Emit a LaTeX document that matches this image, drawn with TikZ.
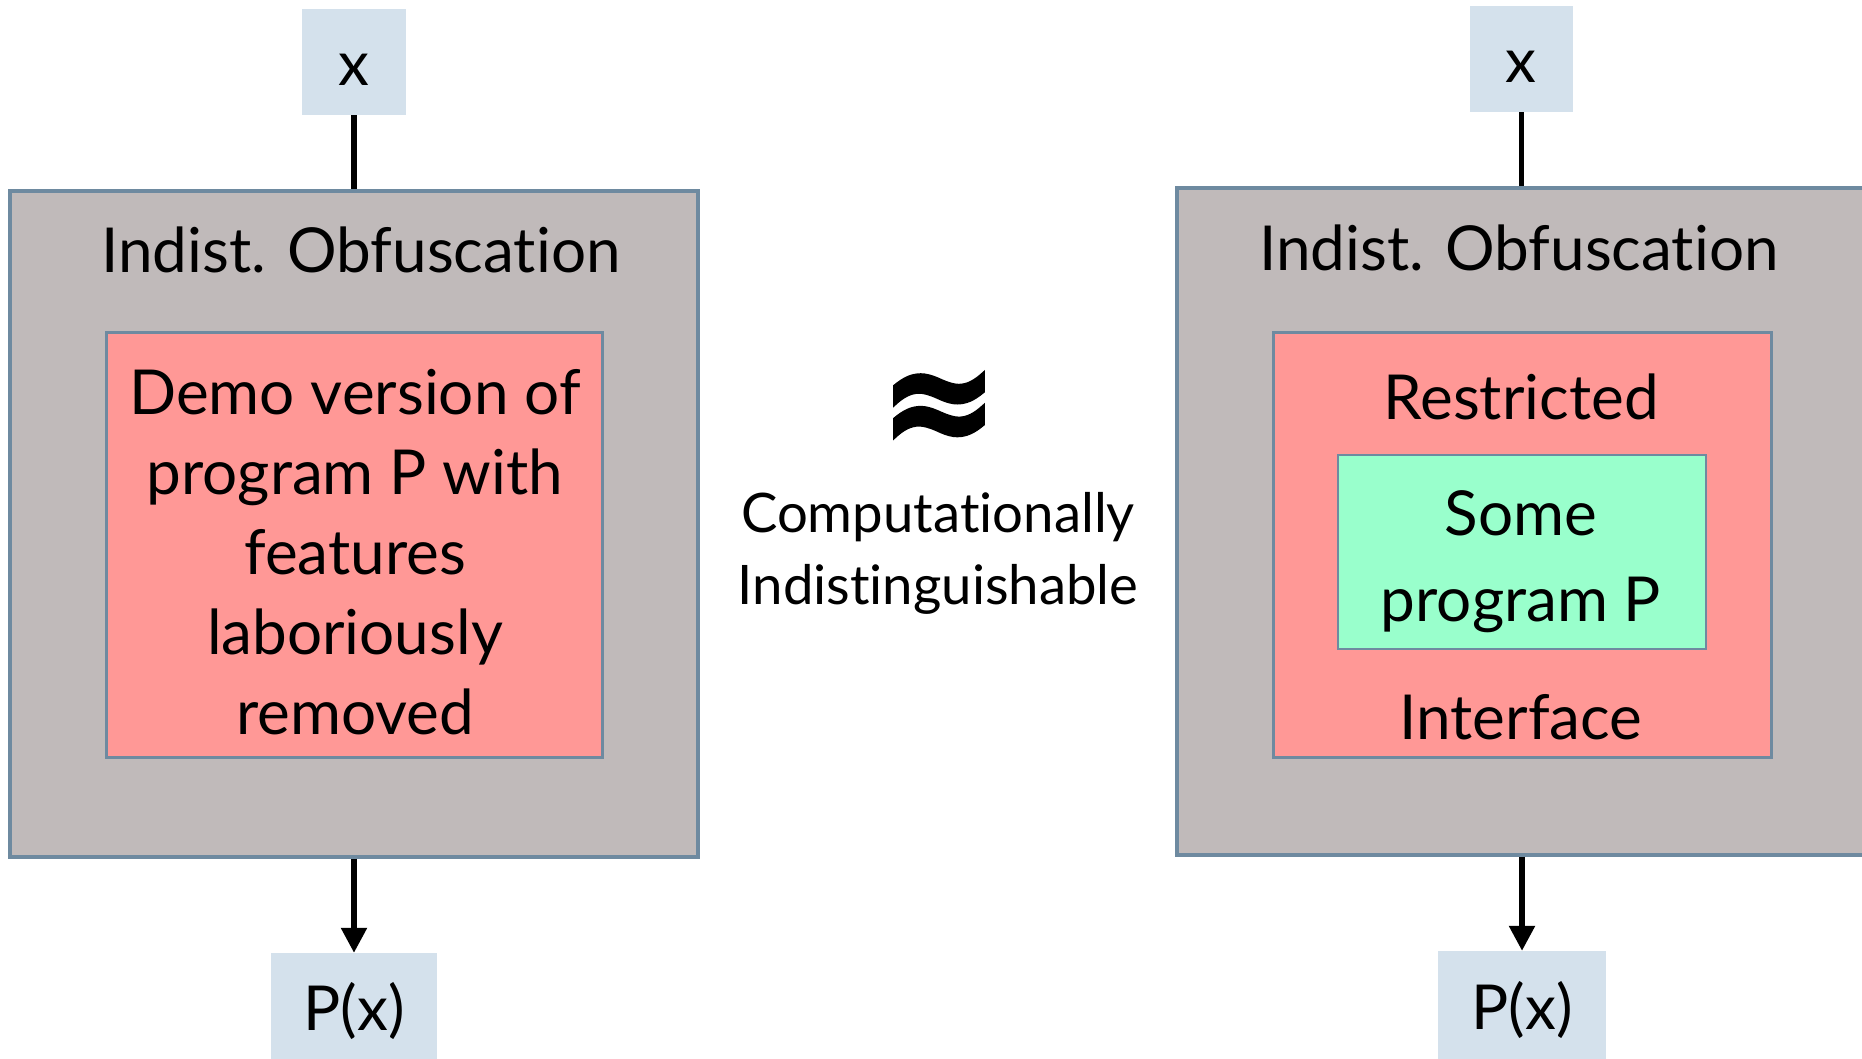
\documentclass[tikz,border=0pt]{standalone}
\usepackage{fontspec}
\setmainfont{Lato}[Ligatures={NoCommon,NoRare}]
\newfontfamily\approxfont{DejaVu Sans Bold}[FakeBold=1.5]
\usetikzlibrary{arrows.meta}

\definecolor{shell}{HTML}{C0BABA}
\definecolor{edge}{HTML}{6E8AA0}
\definecolor{core}{HTML}{FF9896}
\definecolor{prog}{HTML}{99FFCC}
\definecolor{io}{HTML}{D4E1EC}

\begin{document}
\begin{tikzpicture}[x=1pt,y=-1pt,
  iobox/.style={fill=io, inner sep=0},
  shellbox/.style={fill=shell, draw=edge, line width=3.5pt, inner sep=0,
                   minimum width=688pt, minimum height=666pt},
  corebox/.style={fill=core, draw=edge, line width=3pt, inner sep=0,
                  minimum height=425pt},
  progbox/.style={fill=prog, draw=edge, line width=2pt, inner sep=0,
                  minimum width=368pt, minimum height=194pt},
  txt/.style={font=\fontsize{62}{80}\selectfont, align=center, inner sep=0},
  smalltxt/.style={font=\fontsize{54.5}{72}\selectfont, align=center, inner sep=0},
  flow/.style={line width=5.5pt},
  tip/.style={-{Triangle[width=25pt,length=25pt]}}
]
\clip (0,0) rectangle (1862,1058);

% ---- left: obfuscated demo version ----
\node[iobox, minimum width=104pt, minimum height=106pt] (xL) at (354,62) {};
\node[txt] (xLt) at (354,70) {x};
\node[shellbox] (shellL) at (354,524) {};
\node[txt] (titleL) at (361,250) {Indist. Obfuscation};
\node[corebox, minimum width=496pt] (coreL) at (354,545) {};
\node[txt] (demo) at (355,552) {Demo version of\\program P with\\features\\laboriously\\removed};
\node[iobox, minimum width=166pt, minimum height=110pt] (pL) at (354,1008) {};
\node[txt] (pLt) at (354,1011) {P(x)};

\draw[flow] (xL.south) -- (shellL.north);
\draw[flow, tip] (shellL.south) -- (pL.north);

% ---- middle ----
\node[inner sep=0] (approx) at (939,414)
  {\resizebox{120pt}{83pt}{\approxfont ≈}};
\node[smalltxt] (ci) at (938,553) {Computationally\\Indistinguishable};

% ---- right: restricted interface around program P ----
\node[iobox, minimum width=103pt, minimum height=106pt] (xR) at (1521.5,59) {};
\node[txt] (xRt) at (1521,67) {x};
\node[shellbox, minimum height=667pt] (shellR) at (1521,521.5) {};
\node[txt] (titleR) at (1519,248) {Indist. Obfuscation};
\node[corebox, minimum width=498pt] (coreR) at (1522,545) {};
\node[txt] (restr) at (1521,397) {Restricted};
\node[progbox] (progR) at (1522,552) {};
\node[txt, font=\fontsize{62}{86}\selectfont] (some) at (1521,562) {Some\\program P};
\node[txt] (iface) at (1521,717) {Interface};
\node[iobox, minimum width=168pt, minimum height=111pt] (pR) at (1522,1006.5) {};
\node[txt] (pRt) at (1522,1010) {P(x)};

\draw[flow] (xR.south) -- (xR.south |- shellR.north);
\draw[flow, tip] (shellR.south -| pR.north) -- (pR.north);
\end{tikzpicture}
\end{document}
